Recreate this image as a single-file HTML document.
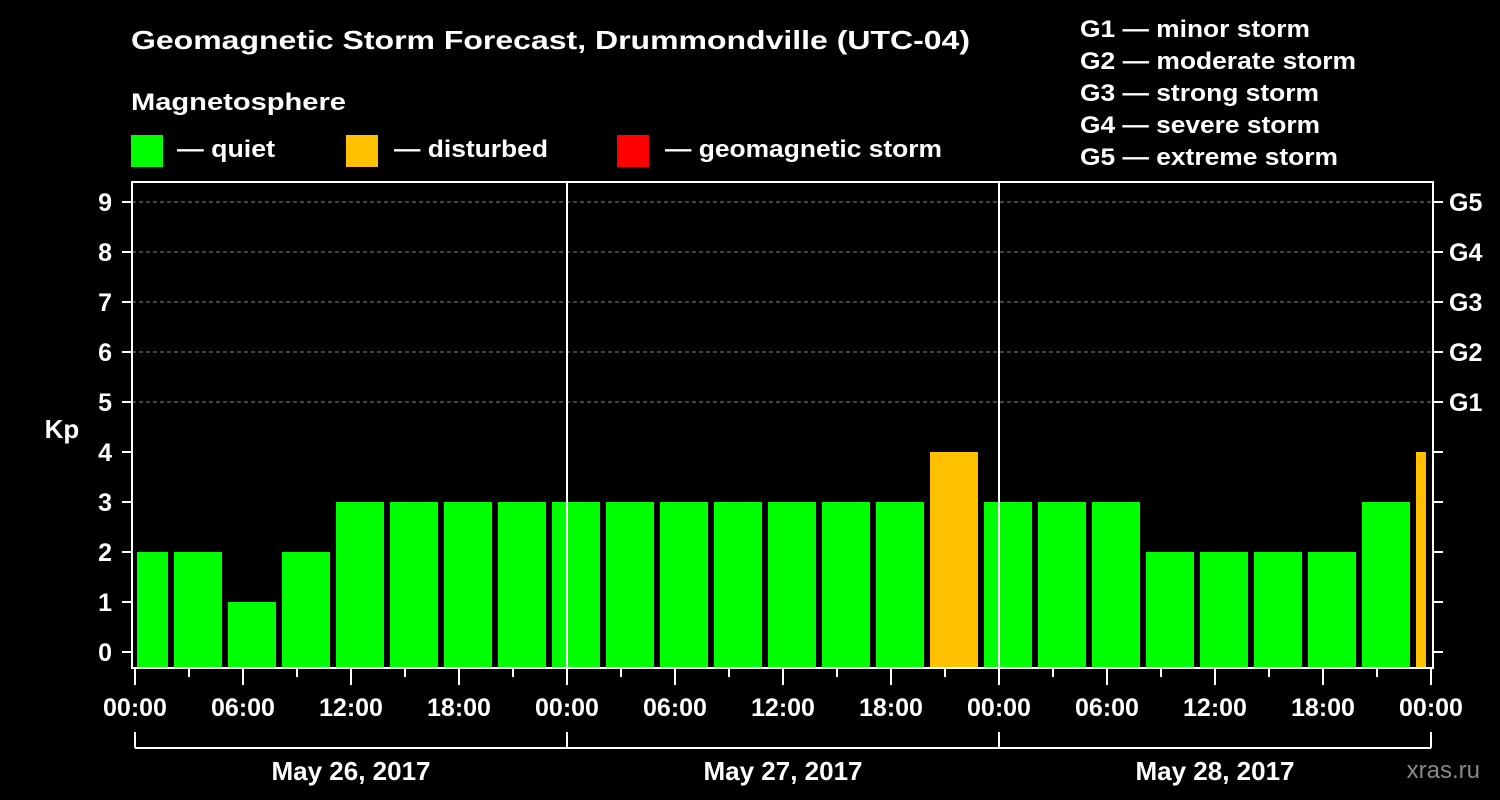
<!DOCTYPE html>
<html><head><meta charset="utf-8"><style>
html,body{margin:0;padding:0;background:#000;}
svg{display:block;font-family:"Liberation Sans",Arial,sans-serif;font-weight:bold;}
</style></head><body>
<svg id="chart" width="1500" height="800" viewBox="0 0 1500 800">
<rect x="0" y="0" width="1500" height="800" fill="#000"/>
<text x="131" y="49" fill="#fff" font-size="26" textLength="839" lengthAdjust="spacingAndGlyphs">Geomagnetic Storm Forecast, Drummondville (UTC-04)</text>
<text x="131" y="110" fill="#fff" font-size="24" textLength="215" lengthAdjust="spacingAndGlyphs">Magnetosphere</text>
<g><rect x="131" y="135" width="32" height="32" fill="#00ff00"/><text x="177" y="157" fill="#fff" font-size="24" textLength="98" lengthAdjust="spacingAndGlyphs">— quiet</text></g>
<g><rect x="346" y="135" width="32" height="32" fill="#ffc000"/><text x="394" y="157" fill="#fff" font-size="24" textLength="154" lengthAdjust="spacingAndGlyphs">— disturbed</text></g>
<g><rect x="617" y="135" width="32" height="32" fill="#ff0000"/><text x="665" y="157" fill="#fff" font-size="24" textLength="277" lengthAdjust="spacingAndGlyphs">— geomagnetic storm</text></g>
<g fill="#fff" font-size="24">
<text x="1080" y="37" textLength="230" lengthAdjust="spacingAndGlyphs">G1 — minor storm</text>
<text x="1080" y="69" textLength="276" lengthAdjust="spacingAndGlyphs">G2 — moderate storm</text>
<text x="1080" y="101" textLength="239" lengthAdjust="spacingAndGlyphs">G3 — strong storm</text>
<text x="1080" y="133" textLength="240" lengthAdjust="spacingAndGlyphs">G4 — severe storm</text>
<text x="1080" y="165" textLength="258" lengthAdjust="spacingAndGlyphs">G5 — extreme storm</text>
</g>
<g id="plot"></g>
<text x="62" y="438" fill="#fff" font-size="26" text-anchor="middle">Kp</text>
<text x="1480" y="778" fill="#888" font-size="24" font-weight="normal" text-anchor="end">xras.ru</text>
</svg>
<script>
const kpValues=[2,2,1,2,3,3,3,3,3,3,3,3,3,3,3,4,3,3,3,2,2,2,2,3,4];
const kpStartHours=[-1,2,5,8,11,14,17,20,23,26,29,32,35,38,41,44,47,50,53,56,59,62,65,68,71];
const yTicks=[0,1,2,3,4,5,6,7,8,9];
const gLabels=["G1","G2","G3","G4","G5"];
const gLevels=[5,6,7,8,9];
const xTickLabels=["00:00","06:00","12:00","18:00","00:00","06:00","12:00","18:00","00:00","06:00","12:00","18:00","00:00"];
const dayLabels=["May 26, 2017","May 27, 2017","May 28, 2017"];

const NS="http://www.w3.org/2000/svg";
const g=document.getElementById('plot');
const X0=135,PXH=18,TOTAL=72;
const xs=h=>X0+h*PXH;
const ys=v=>652-50*v;
const L=132,R=1433,T=182,B=668;
function mk(t,a,p){const e=document.createElementNS(NS,t);for(const k in a)e.setAttribute(k,a[k]);(p||g).appendChild(e);return e;}

yTicks.forEach(v=>{if(v>=5){const l=mk('line',{x1:L,x2:R,y1:ys(v),y2:ys(v),stroke:'#888','stroke-dasharray':'4,3','stroke-width':1});

}});

kpValues.forEach((v,i)=>{
 let s=kpStartHours[i],e=s+3;
 let x1=Math.max(xs(s)+3,xs(0)+2), x2=Math.min(xs(e)-3,xs(TOTAL)-5);
 const r=mk('rect',{x:x1,y:ys(v),width:x2-x1,height:B-ys(v),fill:v>=5?'#ff0000':(v>=4?'#ffc000':'#00ff00')});
 
 
});

// day separators
[24,48].forEach(h=>{const l=mk('line',{x1:xs(h),x2:xs(h),y1:T,y2:B,stroke:'#fff','stroke-width':2});

});

const frame=mk('rect',{x:L,y:T,width:R-L,height:B-T,fill:'none',stroke:'#fff','stroke-width':2});



yTicks.forEach(v=>{
 mk('line',{x1:122,x2:L,y1:ys(v),y2:ys(v),stroke:'#fff','stroke-width':2});
 mk('line',{x1:R,x2:1443,y1:ys(v),y2:ys(v),stroke:'#fff','stroke-width':2});
 const t=mk('text',{x:112,y:ys(v)+9,fill:'#fff','font-size':25,'text-anchor':'end'});t.textContent=v;
 
 
});
gLabels.forEach((lab,i)=>{const t=mk('text',{x:1449,y:ys(gLevels[i])+9,fill:'#fff','font-size':25});t.textContent=lab;
 
 });

for(let h=0;h<=TOTAL;h+=3){const major=h%6===0;mk('line',{x1:xs(h),x2:xs(h),y1:B,y2:B+(major?17:9),stroke:'#fff','stroke-width':2});}
xTickLabels.forEach((lab,i)=>{const t=mk('text',{x:xs(i*6),y:716,fill:'#fff','font-size':25,'text-anchor':'middle'});t.textContent=lab;
 
 });

mk('line',{x1:xs(0),x2:xs(TOTAL),y1:748,y2:748,stroke:'#fff','stroke-width':2});
for(let d=0;d<=3;d++)mk('line',{x1:xs(d*24),x2:xs(d*24),y1:732,y2:748,stroke:'#fff','stroke-width':2});
dayLabels.forEach((lab,i)=>{const t=mk('text',{x:xs(i*24+12),y:780,fill:'#fff','font-size':26,'text-anchor':'middle'});t.textContent=lab;
 
 });
</script>
</body></html>
